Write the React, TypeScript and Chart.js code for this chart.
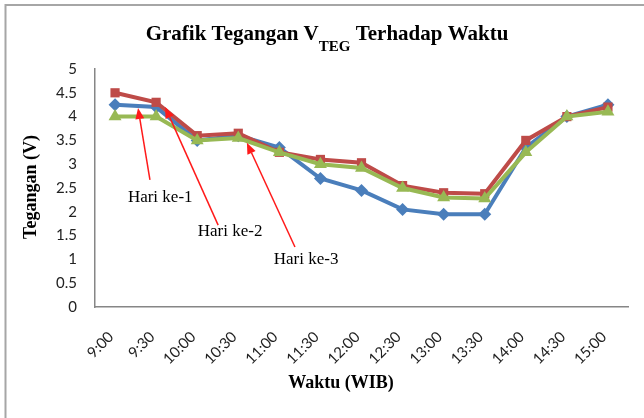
import React, { useEffect, useRef } from 'react';
import { Chart, registerables } from 'chart.js';

Chart.register(...registerables);

// ---- Data ----
const categories = ['9:00', '9:30', '10:00', '10:30', '11:00', '11:30', '12:00', '12:30', '13:00', '13:30', '14:00', '14:30', '15:00'];
const hari1 = [4.25, 4.2, 3.5, 3.6, 3.35, 2.7, 2.45, 2.05, 1.95, 1.95, 3.35, 4.0, 4.25];
const hari2 = [4.5, 4.3, 3.6, 3.65, 3.25, 3.1, 3.03, 2.55, 2.4, 2.38, 3.5, 4.0, 4.2];
const hari3 = [4.0, 4.0, 3.5, 3.55, 3.25, 3.0, 2.92, 2.5, 2.3, 2.28, 3.25, 4.0, 4.1];
const seriesNames = ['Hari ke-1', 'Hari ke-2', 'Hari ke-3'];

// annotation arrows (category index / value coordinates)
const annotationLabels = ['Hari ke-1', 'Hari ke-2', 'Hari ke-3'];
const arrowHeadX = [0.56, 1.22, 3.21];
const arrowHeadY = [4.18, 4.2, 3.45];
const arrowTailX = [0.85, 2.51, 4.38];
const arrowTailY = [2.67, 1.72, 1.26];
const labelX = [1.1, 2.8, 4.65];
const labelY = [2.31, 1.58, 0.99];

const yMin = 0;
const yMax = 5;
const yStep = 0.5;

const titleMain = 'Grafik Tegangan V';
const titleSub = 'TEG';
const titleRest = ' Terhadap Waktu';
const xTitle = 'Waktu (WIB)';
const yTitle = 'Tegangan (V)';

const SERIF = '"Liberation Serif", "Times New Roman", serif';
const SANS = 'Lato, "Liberation Sans", sans-serif';

const decorPlugin = {
  id: 'decor',
  beforeDraw(chart: any) {
    const ctx = chart.ctx;
    ctx.save();
    ctx.fillStyle = '#ffffff';
    ctx.fillRect(0, 0, chart.width, chart.height);
    ctx.strokeStyle = '#a6a6a6';
    ctx.lineWidth = 2;
    ctx.beginPath();
    ctx.moveTo(5.5, chart.height + 5);
    ctx.lineTo(5.5, 5);
    ctx.lineTo(chart.width + 5, 5);
    ctx.stroke();
    ctx.restore();
  },
  afterDraw(chart: any) {
    const ctx = chart.ctx;
    ctx.save();
    // Title
    ctx.fillStyle = '#000';
    ctx.textBaseline = 'alphabetic';
    ctx.textAlign = 'left';
    const mainFont = `bold 21px ${SERIF}`;
    const subFont = `bold 15px ${SERIF}`;
    ctx.font = mainFont;
    const w1 = ctx.measureText(titleMain).width;
    const w3 = ctx.measureText(titleRest).width;
    ctx.font = subFont;
    const w2 = ctx.measureText(titleSub).width;
    const total = w1 + w2 + w3;
    let x = 327 - total / 2;
    const base = 40;
    ctx.font = mainFont;
    ctx.fillText(titleMain, x, base);
    x += w1;
    ctx.font = subFont;
    ctx.fillText(titleSub, x, base + 11);
    x += w2;
    ctx.font = mainFont;
    ctx.fillText(titleRest, x, base);

    // Axis titles
    ctx.font = `bold 18px ${SERIF}`;
    ctx.textAlign = 'center';
    ctx.textBaseline = 'middle';
    ctx.fillText(xTitle, 341, 383);
    ctx.save();
    ctx.translate(31, 187);
    ctx.rotate(-Math.PI / 2);
    ctx.fillText(yTitle, 0, 0);
    ctx.restore();

    // Annotations
    const xs = chart.scales.x;
    const ys = chart.scales.y;
    ctx.strokeStyle = '#ff1a1a';
    ctx.fillStyle = '#ff1a1a';
    ctx.lineWidth = 1.5;
    for (let i = 0; i < annotationLabels.length; i++) {
      const hx = xs.getPixelForValue(arrowHeadX[i]);
      const hy = ys.getPixelForValue(arrowHeadY[i]);
      const tx = xs.getPixelForValue(arrowTailX[i]);
      const ty = ys.getPixelForValue(arrowTailY[i]);
      const ang = Math.atan2(hy - ty, hx - tx);
      const len = 11;
      const half = 4.5;
      const bx = hx - len * Math.cos(ang);
      const by = hy - len * Math.sin(ang);
      ctx.beginPath();
      ctx.moveTo(tx, ty);
      ctx.lineTo(bx, by);
      ctx.stroke();
      ctx.beginPath();
      ctx.moveTo(hx, hy);
      ctx.lineTo(bx + half * Math.sin(ang), by - half * Math.cos(ang));
      ctx.lineTo(bx - half * Math.sin(ang), by + half * Math.cos(ang));
      ctx.closePath();
      ctx.fill();
    }
    ctx.fillStyle = '#000';
    ctx.font = `17px ${SERIF}`;
    ctx.textAlign = 'center';
    ctx.textBaseline = 'middle';
    for (let i = 0; i < annotationLabels.length; i++) {
      ctx.fillText(annotationLabels[i], xs.getPixelForValue(labelX[i]), ys.getPixelForValue(labelY[i]));
    }
    ctx.restore();
  },
};

export default function App() {
  const canvasRef = useRef<HTMLCanvasElement | null>(null);

  useEffect(() => {
    document.body.style.margin = '0';
    const canvas = canvasRef.current;
    if (!canvas) return;
    const chart = new Chart(canvas, {
      type: 'line',
      data: {
        labels: categories,
        datasets: [
          {
            label: seriesNames[0],
            data: hari1,
            borderColor: '#4a7ebb',
            backgroundColor: '#4a7ebb',
            borderWidth: 4,
            pointStyle: 'rectRot',
            pointRadius: 6.5,
            pointBorderWidth: 0,
            tension: 0,
            order: 3,
          },
          {
            label: seriesNames[1],
            data: hari2,
            borderColor: '#be4b48',
            backgroundColor: '#be4b48',
            borderWidth: 4,
            pointStyle: 'rect',
            pointRadius: 6.5,
            pointBorderWidth: 0,
            tension: 0,
            order: 2,
          },
          {
            label: seriesNames[2],
            data: hari3,
            borderColor: '#98b954',
            backgroundColor: '#98b954',
            borderWidth: 4,
            pointStyle: 'triangle',
            pointRadius: 7.5,
            pointBorderWidth: 0,
            tension: 0,
            order: 1,
          },
        ],
      },
      options: {
        responsive: false,
        animation: false,
        layout: { padding: { left: 0, top: 69, right: 15.5, bottom: 0 } },
        plugins: {
          legend: { display: false },
          title: { display: false },
          tooltip: { enabled: false },
        },
        scales: {
          x: {
            type: 'category',
            offset: true,
            grid: { display: false, drawTicks: false },
            border: { display: true, color: '#868686', width: 1.5 },
            ticks: {
              autoSkip: false,
              minRotation: 45,
              maxRotation: 45,
              padding: 21,
              labelOffset: -4,
              color: '#222',
              font: { family: SANS, size: 15 },
            },
            afterFit: (s: any) => {
              s.height = 111;
            },
          },
          y: {
            min: yMin,
            max: yMax,
            grid: { display: false, drawTicks: false },
            border: { display: true, color: '#868686', width: 1.5 },
            ticks: {
              stepSize: yStep,
              padding: 17.5,
              color: '#222',
              font: { family: SANS, size: 15 },
              callback: (v: any) => String(Number(v)),
            },
            afterFit: (s: any) => {
              s.width = 94.5;
            },
          },
        },
      },
      plugins: [decorPlugin],
    });
    return () => chart.destroy();
  }, []);

  return (
    <div style={{ position: 'absolute', left: 0, top: 0, width: 644, height: 418 }}>
      <canvas ref={canvasRef} width={644} height={418} />
    </div>
  );
}
